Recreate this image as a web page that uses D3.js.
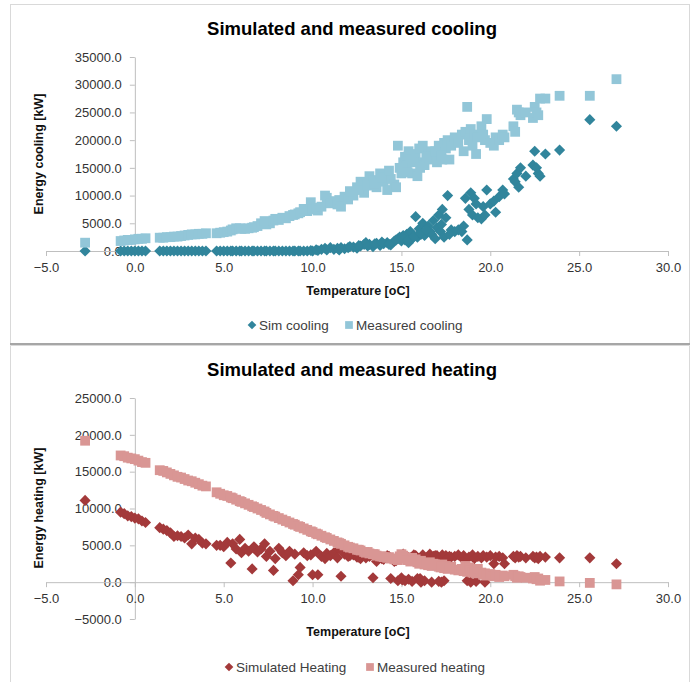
<!DOCTYPE html>
<html lang="en">
<head>
  <meta charset="UTF-8">
  <title>Simulated and measured cooling / heating</title>
  <style>
    body { margin: 0; background: #fff; }
    svg text { font-family: "Liberation Sans", Arial, sans-serif; }
    .tick text { fill: #333; font-size: 13px; }
    .chart-title { font-size: 18.5px; font-weight: bold; fill: #000; }
    .axis-title { font-size: 12.5px; font-weight: bold; fill: #111; }
    .legend text { font-size: 13.5px; fill: #404040; }
  </style>
</head>
<body>
<div id="chart"></div>
<script src="https://d3js.org/d3.v7.min.js"></script>
<script>
  // outdoor temperature for each day [oC]
  const temps = [
    -2.8,
    -0.8, -0.6, -0.4, -0.2, 0.0, 0.2, 0.4, 0.6,
    1.4, 1.6, 1.8, 2.0, 2.2, 2.4, 2.6, 2.8, 3.0, 3.2, 3.4, 3.6, 3.8, 4.0,
    4.6, 4.8, 5.0, 5.2, 5.4, 5.5, 5.7, 5.9, 6.0, 6.2, 6.4, 6.6, 6.7, 6.9,
    7.1, 7.3, 7.4, 7.6, 7.8, 7.9, 8.1, 8.3, 8.5, 8.7, 8.9, 9.0, 9.2, 9.3,
    9.5, 9.7, 9.9, 10.0, 10.2, 10.3, 10.5, 10.7, 10.8, 11.0, 11.2, 11.4, 11.5, 11.6,
    11.8, 12.0, 12.3, 12.5, 12.7, 12.9, 13.0, 13.2, 13.4, 13.6, 13.8, 14.0, 14.2, 14.4,
    14.6, 14.8, 14.9, 15.0, 15.1, 15.2, 15.3, 15.4, 15.5, 15.6, 15.8, 15.9, 16.0, 16.1,
    16.2, 16.3, 16.5, 16.6, 16.7, 16.8, 17.0, 17.1, 17.2, 17.3, 17.4, 17.5, 17.6, 17.8,
    18.0, 18.2, 18.4, 18.5, 18.6, 18.7, 18.8, 18.9, 19.0, 19.1, 19.2, 19.3, 19.5, 19.6,
    19.7, 19.8, 20.0, 20.2, 20.3, 20.5, 20.7, 20.8, 21.3, 21.4, 21.5, 21.6, 21.7, 22.0,
    22.4, 22.5, 22.6, 22.7, 22.8, 23.1, 23.9, 25.6, 27.1,
    12.1, 12.6, 13.1, 13.5, 13.9, 14.3, 14.7, 15.05, 15.35, 15.7, 16.05, 16.4, 16.9, 17.25, 17.7
  ];

  const simCooling = [
    0,
    0, 0, 0, 0, 0, 0, 0, 0,
    0, 0, 0, 0, 0, 0, 0, 0, 0, 0, 0, 0, 0, 0,
    0, 0, 0, 0, 0, 0, 0, 0, 0, 0, 0, 0, 0, 0,
    0, 0, 0, 0, 0, 0, 0, 0, 0, 0, 0, 0, 0, 0,
    0, 0, 100, 0, 200, 100, 300, 500, 200, 600, 300, 500, 200, 600,
    400, 600, 700, 500, 900, 1200, 1500, 1200, 800, 1400, 1000, 1300, 1500, 1100,
    1800, 2200, 2500, 1800, 2800, 2000, 3000, 1500, 3500, 2200, 6200, 2500, 4000, 3000,
    5000, 2800, 4500, 3500, 3000, 5500, 4200, 6500, 3500, 7500, 2500, 6000, 10000, 3800,
    3500, 3800, 3500, 4500, 9500, 2000, 7500, 10500, 6500, 9500, 8500, 6000, 5800, 8000,
    6500, 11000, 8500, 9000, 7000, 9800, 11000, 10300, 13000, 12500, 14000, 11500, 15000, 13500,
    15500, 18000, 15000, 14000, 13500, 17500, 18200, 23700, 22500,
    800, 1000, 900, 1300, 1600, 1200, 2000, 2400, 1900, 2600, 3300, 3800, 2200, 4800, 3000
  ];

  const measuredCooling = [
    1500,
    1800, 1900, 2000, 2000, 2100, 2200, 2200, 2300,
    2400, 2400, 2500, 2500, 2600, 2600, 2700, 2800, 2900, 3000, 3000, 3100, 3100, 3200,
    3200, 3300, 3400, 3500, 3700, 3900, 4100, 4100, 4000, 4000, 4100, 4200, 4300, 4500,
    5000, 5400, 4800, 5000, 5500, 5800, 5600, 6000, 5900, 6300, 6500, 6600, 6800, 7000,
    7600, 7200, 8800, 7500, 7800, 7300, 8000, 10000, 9600, 8600, 9000, 8400, 9200, 8000,
    9800, 9300, 10000, 11500, 12500, 10500, 12000, 13500, 12800, 11500, 14000, 12500, 11000, 13000,
    12000, 19000, 15000, 14000, 16000, 17000, 15500, 18000, 16500, 14000, 17500, 13500, 18500, 16000,
    19000, 15500, 17500, 16500, 18000, 17000, 16000, 19000, 18000, 16500, 19500, 18500, 20000, 19000,
    20500, 19500, 21000, 18000, 21500, 26000, 20000, 22000, 19000, 21000, 17500, 20500, 22500, 21000,
    20000, 23800, 19500, 19000, 20500, 20000, 21000, 20500, 22500, 21500, 25500, 25000, 24500, 25000,
    24000, 26000, 25000, 24500, 27500, 27500, 28000, 28000, 31000,
    10800, 11000, 11800, 12200, 13200, 14500, 11500, 15000, 14200, 16000, 15000, 17000, 18000, 17200, 16500
  ];

  const simHeating = [
    11100,
    9500, 9300, 9000, 8900, 8700, 8600, 8300, 8100,
    7400, 7200, 7000, 6700, 6200, 6300, 6200, 6000, 6400, 5200, 6000, 5800, 5300, 5200,
    5000, 5000, 4800, 5400, 2600, 5200, 4500, 5800, 4000, 4600, 4200, 1800, 4800, 4100,
    4500, 5200, 3500, 4200, 1600, 3200, 4600, 4000, 3600, 4200, 200, 3800, 1000, 2000,
    4000, 3600, 3700, 1000, 4200, 1000, 3500, 3200, 3900, 3600, 4000, 3300, 4500, 800,
    3800, 3500, 3700, 3400, 3200, 3600, 3300, 3500, 600, 2800, 3400, 3100, 3600, 500,
    2800, 200, 3300, 600, 3800, 200, 3500, 400, 3300, 100, 3600, 500, 3200, 0,
    3700, 200, 3400, 3800, 0, 3500, 3600, 100, 3300, 3700, 200, 3600, 3200, 3400,
    3500, 3700, 3300, 3600, 3000, 200, 3400, 0, 3700, 3200, 100, 3500, 3300, 3600,
    0, 3400, 3600, 2500, 3400, 3500, 3300, 2500, 3500, 3300, 3600, 3400, 3500, 3300,
    3500, 3300, 3400, 3200, 3500, 3400, 3300, 3300, 2500,
    3600, 3400, 3700, 3300, 3200, 3500, 2900, 300, 3400, 3700, 500, 3300, 3600, 0, 3500
  ];

  const measuredHeating = [
    19200,
    17200, 17100, 16900, 16800, 16700, 16500, 16300, 16200,
    15200, 15100, 14900, 14700, 14500, 14300, 14200, 14000, 13800, 13700, 13500, 13300, 13100, 13000,
    12200, 12000, 11800, 11700, 11500, 11400, 11200, 11000, 10900, 10700, 10500, 10300, 10200, 10000,
    9800, 9600, 9400, 9200, 9000, 8900, 8700, 8500, 8300, 8100, 7900, 7800, 7600, 7500,
    7300, 7100, 6900, 6800, 6600, 6500, 6300, 6100, 6000, 5800, 5600, 5400, 5300, 5200,
    5000, 4800, 4600, 4400, 4300, 4100, 4000, 3900, 3800, 3600, 3500, 3400, 3300, 3200,
    3100, 3000, 3500, 3800, 3600, 3400, 3200, 3000, 2800, 3300, 3100, 2700, 2500, 2900,
    2600, 2400, 2300, 2700, 2200, 2500, 2300, 2100, 2000, 2400, 1900, 2200, 1800, 2100,
    1700, 1600, 1800, 1500, 2200, 1400, 2000, 1600, 1300, 1500, 1200, 1800, 1300, 1000,
    1200, 900, 1100, 800, 1000, 700, 900, 800, 1000, 800, 600, 800, 700, 600,
    500, 700, 400, 500, 200, 300, 100, -100, -300,
    4700, 4400, 4100, 3800, 3500, 3400, 3200, 3300, 3000, 2900, 2700, 2500, 2400, 2200, 2000
  ];

  const xTicks = [-5, 0, 5, 10, 15, 20, 25, 30];
  const coolTicks = [0, 5000, 10000, 15000, 20000, 25000, 30000, 35000];
  const heatTicks = [-5000, 0, 5000, 10000, 15000, 20000, 25000];

  const width = 697, height = 682;
  const fmt = d3.format(".1f");
  const axisGrey = "#bfbfbf";

  const svg = d3.select("#chart").append("svg")
    .attr("width", width)
    .attr("height", height);

  // panel frames
  svg.append("rect")
    .attr("x", 10.5).attr("y", 4.5).attr("width", 679).attr("height", 339)
    .attr("fill", "none").attr("stroke", "#d9d9d9");
  svg.append("path")
    .attr("d", "M10.5,682V345.5H689.5V682")
    .attr("fill", "none").attr("stroke", "#d9d9d9");
  svg.append("line")
    .attr("x1", 10).attr("x2", 690).attr("y1", 344).attr("y2", 344)
    .attr("stroke", "#a6a6a6").attr("stroke-width", 2);

  const x = d3.scaleLinear().domain([-5, 30]).range([46, 668]);

  function drawPanel(cfg) {
    const g = svg.append("g");
    const y = d3.scaleLinear().domain(cfg.yDomain).range(cfg.yRange);

    g.append("text")
      .attr("class", "chart-title")
      .attr("x", 352).attr("y", cfg.titleY)
      .attr("text-anchor", "middle")
      .text(cfg.title);

    const yAxis = g.append("g")
      .attr("transform", `translate(${x(0)},0)`)
      .call(d3.axisLeft(y).tickValues(cfg.yTicks).tickFormat(fmt)
        .tickSize(5).tickSizeOuter(0).tickPadding(8));

    const xAxis = g.append("g")
      .attr("transform", `translate(0,${y(0)})`)
      .call(d3.axisBottom(x).tickValues(xTicks).tickFormat(fmt)
        .tickSize(5).tickSizeOuter(0).tickPadding(cfg.xPad));

    [yAxis, xAxis].forEach(a => {
      a.select(".domain").attr("stroke", axisGrey);
      a.selectAll(".tick line").attr("stroke", axisGrey);
      a.selectAll(".tick text").style("font-family", "Liberation Sans, Arial, sans-serif");
    });

    g.append("text")
      .attr("class", "axis-title")
      .attr("x", 358).attr("y", cfg.xTitleY)
      .attr("text-anchor", "middle")
      .text("Temperature [oC]");

    g.append("text")
      .attr("class", "axis-title")
      .attr("transform", `translate(43,${cfg.yTitleY}) rotate(-90)`)
      .attr("text-anchor", "middle")
      .text(cfg.yTitle);

    const diamond = d3.symbol().type(d3.symbolSquare).size(62)();
    const square = d3.symbol().type(d3.symbolSquare).size(96)();

    g.append("g").selectAll("path")
      .data(temps.map((t, i) => [t, cfg.sim[i]]))
      .join("path")
      .attr("d", diamond)
      .attr("fill", cfg.simColor)
      .attr("transform", d => `translate(${x(d[0])},${y(d[1])}) rotate(45)`);

    g.append("g").selectAll("path")
      .data(temps.map((t, i) => [t, cfg.meas[i]]))
      .join("path")
      .attr("d", square)
      .attr("fill", cfg.measColor)
      .attr("transform", d => `translate(${x(d[0])},${y(d[1])})`);

    // legend
    const lg = g.append("g").attr("class", "legend");
    lg.append("path")
      .attr("d", d3.symbol().type(d3.symbolSquare).size(38)())
      .attr("fill", cfg.simColor)
      .attr("transform", `translate(${cfg.legend[0]},${cfg.legendY}) rotate(45)`);
    lg.append("text")
      .attr("x", cfg.legend[0] + 7).attr("y", cfg.legendY)
      .attr("dy", "0.35em")
      .text(cfg.simLabel);
    lg.append("path")
      .attr("d", d3.symbol().type(d3.symbolSquare).size(60)())
      .attr("fill", cfg.measColor)
      .attr("transform", `translate(${cfg.legend[1]},${cfg.legendY})`);
    lg.append("text")
      .attr("x", cfg.legend[1] + 7).attr("y", cfg.legendY)
      .attr("dy", "0.35em")
      .text(cfg.measLabel);
  }

  drawPanel({
    title: "Simulated and measured cooling",
    titleY: 35,
    yDomain: [0, 35000], yRange: [251, 57], yTicks: coolTicks,
    xPad: 7, xTitleY: 295,
    yTitle: "Energy cooling [kW]", yTitleY: 154,
    sim: simCooling, meas: measuredCooling,
    simColor: "#31859c", measColor: "#92c6d8",
    simLabel: "Sim cooling", measLabel: "Measured cooling",
    legend: [252, 349], legendY: 325
  });

  drawPanel({
    title: "Simulated and measured heating",
    titleY: 376,
    yDomain: [-5000, 25000], yRange: [619, 398], yTicks: heatTicks,
    xPad: 7, xTitleY: 636,
    yTitle: "Energy heating [kW]", yTitleY: 508,
    sim: simHeating, meas: measuredHeating,
    simColor: "#a3393a", measColor: "#d99694",
    simLabel: "Simulated Heating", measLabel: "Measured heating",
    legend: [229, 370], legendY: 667
  });
</script>
</body>
</html>
